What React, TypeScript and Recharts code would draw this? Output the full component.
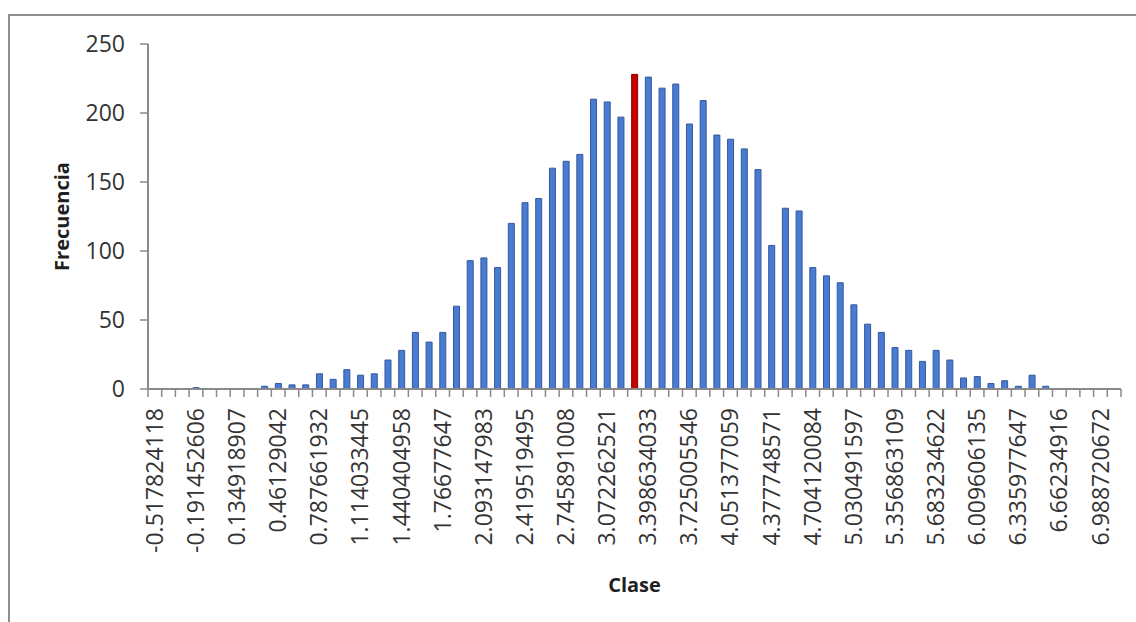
import { BarChart, Bar, XAxis, YAxis, Cell } from "recharts";

// class marks (bin upper limits) as shown on the axis
const classes = [
  "-0.517824118", "-0.409033614", "-0.30024311", "-0.191452606", "-0.082662102",
  "0.026128402", "0.134918907", "0.243709411", "0.352499915", "0.46129042",
  "0.570080924", "0.678871428", "0.787661932", "0.896452436", "1.00524294",
  "1.114033445", "1.222823949", "1.331614453", "1.440404958", "1.549195462",
  "1.657985966", "1.76677647", "1.875566974", "1.984357478", "2.093147983",
  "2.201938487", "2.310728991", "2.419519495", "2.528309999", "2.637100503",
  "2.745891008", "2.854681512", "2.963472016", "3.072262521", "3.181053025",
  "3.289843529", "3.398634033", "3.507424537", "3.616215041", "3.725005546",
  "3.83379605", "3.942586554", "4.051377059", "4.160167563", "4.268958067",
  "4.377748571", "4.486539075", "4.595329579", "4.704120084", "4.812910588",
  "4.921701092", "5.030491597", "5.139282101", "5.248072605", "5.356863109",
  "5.465653613", "5.574444117", "5.683234622", "5.792025126", "5.90081563",
  "6.009606135", "6.118396639", "6.227187143", "6.335977647", "6.444768151",
  "6.553558655", "6.66234916", "6.771139664", "6.879930168", "6.988720672",
  "7.097511176",
];

const frequencies = [
  0, 0, 0, 1, 0, 0, 0, 0, 2, 4,
  3, 3, 11, 7, 14, 10, 11, 21, 28, 41,
  34, 41, 60, 93, 95, 88, 120, 135, 138, 160,
  165, 170, 210, 208, 197, 228, 226, 218, 221, 192,
  209, 184, 181, 174, 159, 104, 131, 129, 88, 82,
  77, 61, 47, 41, 30, 28, 20, 28, 21, 8,
  9, 4, 6, 2, 10, 2, 0, 0, 0, 0,
  0,
];

const yTicks = [0, 50, 100, 150, 200, 250];

// the modal class is highlighted
const highlightClass = "3.289843529";

const data = classes.map((c, i) => ({ clase: c, frecuencia: frequencies[i] }));

const W = 1136;
const H = 622;
const M_TOP = 44;
const M_RIGHT = 15;
const Y_W = 148;
const X_H = 233;
const PLOT_W = W - Y_W - M_RIGHT;
const AXIS_Y = H - X_H;
const BAND = PLOT_W / classes.length;
const AXIS_COLOR = "#8a8a8a";
const TEXT_COLOR = "#333333";
const FONT = "'Open Sans', sans-serif";

const ClassTick = (props: any) => {
  const { x, payload, index } = props;
  const half = BAND / 2;
  return (
    <g>
      <line x1={x - half} x2={x - half} y1={AXIS_Y} y2={AXIS_Y + 8} stroke={AXIS_COLOR} strokeWidth={1.5} />
      {index === classes.length - 1 && (
        <line x1={x + half} x2={x + half} y1={AXIS_Y} y2={AXIS_Y + 8} stroke={AXIS_COLOR} strokeWidth={1.5} />
      )}
      {index % 3 === 0 && (
        <text
          transform={`translate(${x},${AXIS_Y + 19}) rotate(-90)`}
          textAnchor="end"
          dy="0.35em"
          fontSize={23}
          fontFamily={FONT}
          fill={TEXT_COLOR}
        >
          {payload.value}
        </text>
      )}
    </g>
  );
};

export default function App() {
  return (
    <div style={{ position: "fixed", left: 0, top: 0, width: W, height: H, background: "#fff", fontFamily: FONT }}>
      <div
        style={{
          position: "absolute",
          left: 8,
          top: 14,
          width: W,
          height: H,
          borderLeft: "2px solid #8f8f8f",
          borderTop: "2px solid #8f8f8f",
        }}
      />
      <div style={{ position: "absolute", left: 0, top: 0 }}>
        <BarChart
          width={W}
          height={H}
          data={data}
          margin={{ top: M_TOP, right: M_RIGHT, bottom: 0, left: 0 }}
        >
          <XAxis
            dataKey="clase"
            height={X_H}
            interval={0}
            tickLine={false}
            axisLine={{ stroke: AXIS_COLOR, strokeWidth: 2 }}
            tick={<ClassTick />}
            label={{
              value: "Clase",
              position: "insideBottom",
              offset: 30,
              fontSize: 20,
              fontWeight: 700,
              fill: "#1f1f1f",
              fontFamily: FONT,
            }}
          />
          <YAxis
            width={Y_W}
            domain={[0, 250]}
            ticks={yTicks}
            tickSize={8}
            tickMargin={15}
            axisLine={{ stroke: AXIS_COLOR, strokeWidth: 2 }}
            tickLine={{ stroke: AXIS_COLOR, strokeWidth: 1.5 }}
            tick={{ fontSize: 23, fill: TEXT_COLOR, fontFamily: FONT }}
            label={{
              value: "Frecuencia",
              angle: -90,
              position: "center",
              dx: -12,
              fontSize: 20,
              fontWeight: 700,
              fill: "#1f1f1f",
              fontFamily: FONT,
            }}
          />
          <Bar dataKey="frecuencia" barSize={6} isAnimationActive={false}>
            {data.map((d) => (
              <Cell
                key={d.clase}
                fill={d.clase === highlightClass ? "#c80000" : "#4a7bd2"}
                stroke={d.clase === highlightClass ? "#8a0000" : "#34589a"}
                strokeWidth={1}
              />
            ))}
          </Bar>
        </BarChart>
      </div>
    </div>
  );
}
